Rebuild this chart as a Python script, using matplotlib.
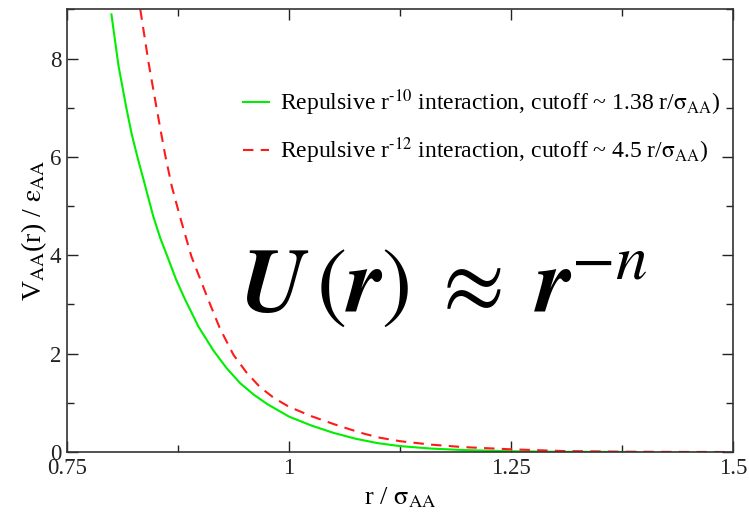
import matplotlib
matplotlib.use("Agg")
import matplotlib.pyplot as plt
from matplotlib.ticker import MultipleLocator, FixedLocator

plt.rcParams['font.family'] = ['Liberation Serif', 'DejaVu Serif']
plt.rcParams['mathtext.fontset'] = 'stix'

# Repulsive r^-10 (green, solid)
r10 = [0.800, 0.808, 0.817, 0.823, 0.830, 0.836, 0.847, 0.855, 0.864, 0.873, 0.883,
       0.898, 0.915, 0.930, 0.945, 0.960, 0.975, 1.000, 1.025, 1.050, 1.075,
       1.100, 1.125, 1.160, 1.196, 1.250, 1.300, 1.392]
v10 = [8.90, 7.85, 6.98, 6.45, 5.95, 5.55, 4.80, 4.35, 3.93, 3.50, 3.10,
       2.55, 2.06, 1.70, 1.40, 1.17, 0.98, 0.72, 0.54, 0.39, 0.27,
       0.18, 0.12, 0.07, 0.04, 0.015, 0.005, 0.0]

# Repulsive r^-12 (red, dashed)
r12 = [0.8325, 0.842, 0.851, 0.8603, 0.868, 0.8773, 0.890, 0.909, 0.922, 0.9373,
       0.952, 0.9673, 0.983, 1.000, 1.025, 1.050, 1.0687, 1.085, 1.1025, 1.125,
       1.160, 1.196, 1.250, 1.309, 1.375, 1.440, 1.500]
v12 = [9.00, 7.90, 6.98, 6.06, 5.40, 4.78, 3.98, 3.10, 2.52, 1.98,
       1.62, 1.32, 1.10, 0.92, 0.73, 0.57, 0.46, 0.37, 0.29, 0.22,
       0.15, 0.10, 0.055, 0.02, 0.006, 0.002, 0.0]

label10 = r'Repulsive r$^{\text{-10}}$ interaction, cutoff ~ 1.38 r/$\mathrm{\sigma}_{\mathrm{AA}}$)'
label12 = r'Repulsive r$^{\text{-12}}$ interaction, cutoff ~ 4.5 r/$\mathrm{\sigma}_{\mathrm{AA}}$)'

xticks = [0.75, 1.0, 1.25, 1.5]
xticklabels = ['0.75', '1', '1.25', '1.5']
yticks = [0, 2, 4, 6, 8]

fig = plt.figure(figsize=(7.49, 5.14), dpi=100)
ax = fig.add_axes([0.0895, 0.1206, 0.8891, 0.861])

ax.plot(r10, v10, color='#00ee00', lw=1.5, label=label10)
ax.plot(r12, v12, color='#ff1a1a', lw=1.5, ls=(0, (5, 3.5)), label=label12)

ax.set_xlim(0.75, 1.5)
ax.set_ylim(0, 9)
ax.xaxis.set_major_locator(FixedLocator(xticks))
ax.set_xticklabels(xticklabels)
ax.xaxis.set_minor_locator(MultipleLocator(0.125))
ax.set_yticks(yticks)
ax.yaxis.set_minor_locator(MultipleLocator(1))
ax.tick_params(which='both', direction='in', top=True, right=True, labelsize=16.5,
               colors='#222222', width=1.0)
ax.tick_params(which='major', length=8, pad=4)
ax.tick_params(which='minor', length=5)
for s in ax.spines.values():
    s.set_linewidth(1.2)
    s.set_color('#333333')

ax.set_xlabel(r'r / $\mathrm{\sigma}_{\mathrm{AA}}$', fontsize=19, labelpad=5)
ax.set_ylabel(r'V$_{\mathrm{AA}}$(r) / $\mathrm{\varepsilon}_{\mathrm{AA}}$', fontsize=20, labelpad=1)

leg = ax.legend(loc='upper right', bbox_to_anchor=(0.995, 0.845), borderaxespad=0,
                frameon=False, fontsize=17, handlelength=1.1, handletextpad=0.45,
                labelspacing=0.72)

ax.text(0.565, 0.37, r'$\boldsymbol{U}\,(\boldsymbol{r})\;\approx\;\boldsymbol{r}^{-n}$',
        transform=ax.transAxes, fontsize=65, ha='center', va='center', color='black')

fig.savefig('out.png', dpi=100)
